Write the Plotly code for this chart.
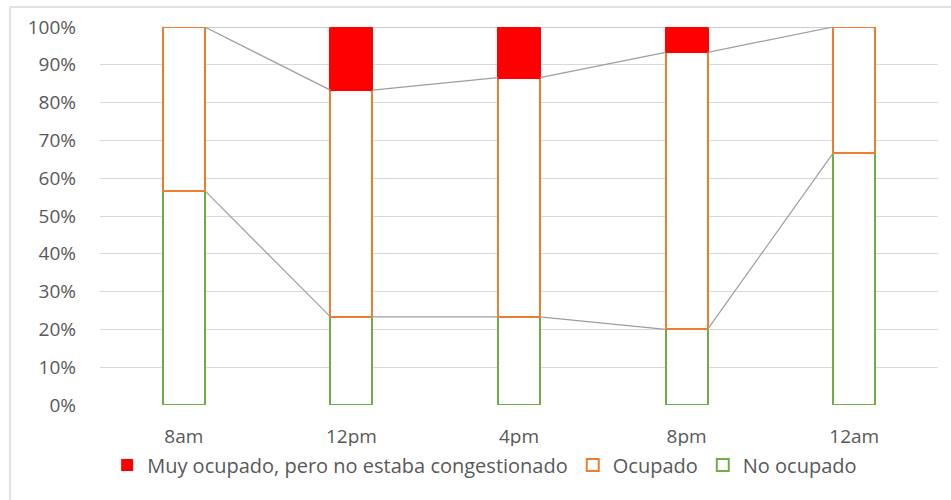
import plotly.graph_objects as go

# Share of responses per time slot (fractions of 1)
times = ["8am", "12pm", "4pm", "8pm", "12am"]
no_ocupado = [0.567, 0.233, 0.233, 0.200, 0.667]
ocupado = [0.433, 0.600, 0.633, 0.733, 0.333]
muy_ocupado = [0.000, 0.167, 0.134, 0.067, 0.000]

names = ["No ocupado", "Ocupado", "Muy ocupado, pero no estaba congestionado"]
outline = ["#70AD47", "#ED7D31", "#FF0000"]
fill = ["#FFFFFF", "#FFFFFF", "#FF0000"]
series = [no_ocupado, ocupado, muy_ocupado]

BAR_W = 0.25
TEXT = "#595959"
FONT = "Open Sans"

x = list(range(len(times)))
fig = go.Figure()

# Series lines joining the top of each stacked segment between bars
cum = [0.0] * len(times)
tops = []
for vals in series:
    cum = [c + v for c, v in zip(cum, vals)]
    tops.append(list(cum))

for top in tops:
    lx, ly = [], []
    for i in range(len(times) - 1):
        lx += [x[i] + BAR_W / 2, x[i + 1] - BAR_W / 2, None]
        ly += [top[i], top[i + 1], None]
    fig.add_trace(go.Scatter(
        x=lx, y=ly, mode="lines", showlegend=False, hoverinfo="skip",
        line=dict(color="#9E9E9E", width=1.2),
    ))

for name, vals, lc, fc in zip(names, series, outline, fill):
    fig.add_trace(go.Bar(
        x=x, y=vals, name=name, width=BAR_W,
        marker=dict(
            color=fc,
            # zero-height segments get no outline
            line=dict(color=lc, width=[2 if v > 0 else 0 for v in vals]),
        ),
    ))

fig.update_layout(
    width=951, height=500,
    barmode="stack",
    paper_bgcolor="#FFFFFF", plot_bgcolor="#FFFFFF",
    margin=dict(l=100, r=13, t=27, b=95),
    font=dict(family=FONT, size=19, color=TEXT),
    showlegend=True,
    legend=dict(
        orientation="h", x=0.459, xanchor="center", y=-0.159, yanchor="middle",
        traceorder="reversed", font=dict(family=FONT, size=20, color=TEXT),
        itemwidth=30,
    ),
    xaxis=dict(
        range=[-0.5, len(times) - 0.5], tickvals=x, ticktext=times,
        showgrid=False, zeroline=False, showline=False, ticks="",
        ticklabelstandoff=18, fixedrange=True,
    ),
    yaxis=dict(
        range=[0, 1], dtick=0.1, tickformat=".0%",
        showgrid=True, gridcolor="#D9D9D9", gridwidth=1,
        zeroline=False, showline=False, ticks="", ticklabelstandoff=23,
        fixedrange=True,
    ),
    shapes=[
        dict(type="line", xref="paper", yref="paper", x0=-90 / 838, x1=1.02,
             y0=1 + 20 / 378, y1=1 + 20 / 378, line=dict(color="#D9D9D9", width=1.5)),
        dict(type="line", xref="paper", yref="paper", x0=-90 / 838, x1=-90 / 838,
             y0=1 + 20 / 378, y1=-0.26, line=dict(color="#D9D9D9", width=1.5)),
    ],
)

fig.write_html("out.html")
